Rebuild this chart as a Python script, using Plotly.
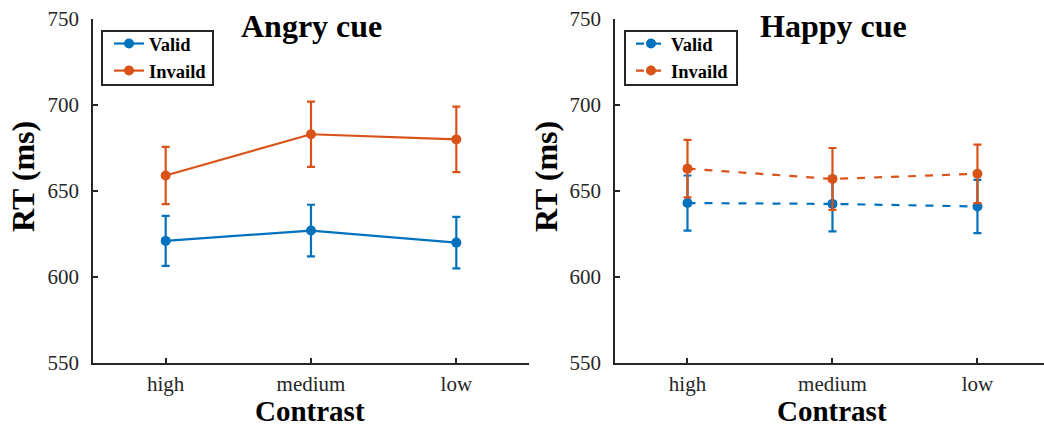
import plotly.graph_objects as go

# ---- data ----
categories = ["high", "medium", "low"]
series_names = ["Valid", "Invaild"]

angry_valid = [621, 627, 620]
angry_valid_err = [14.5, 15, 15]
angry_invalid = [659, 683, 680]
angry_invalid_err = [16.6, 19, 19]

happy_valid = [643, 642.5, 641]
happy_valid_err = [16, 16, 15.5]
happy_invalid = [663, 657, 660]
happy_invalid_err = [16.7, 18, 17]

panel_titles = ["Angry cue", "Happy cue"]
x_title = "Contrast"
y_title = "RT (ms)"
y_ticks = [550, 600, 650, 700, 750]

# ---- style ----
BLUE = "#0072BD"
ORANGE = "#D95319"
AX = "#262626"
FONT = "Liberation Serif"
W, H = 1044, 428
T_MARGIN, B_MARGIN = 19, 65

fig = go.Figure()

def add_series(y, err, name, color, dash, xa, ya, legend):
    fig.add_trace(go.Scatter(
        x=categories, y=y, name=name, mode="lines+markers",
        line=dict(color=color, width=2.2, dash=dash),
        marker=dict(color=color, size=10, symbol="circle"),
        error_y=dict(type="data", array=err, visible=True, color=color,
                     thickness=2.2, width=4),
        xaxis=xa, yaxis=ya, legend=legend,
    ))

add_series(angry_valid, angry_valid_err, series_names[0], BLUE, "solid", "x", "y", "legend")
add_series(angry_invalid, angry_invalid_err, series_names[1], ORANGE, "solid", "x", "y", "legend")
add_series(happy_valid, happy_valid_err, series_names[0], BLUE, "8px,9px", "x2", "y2", "legend2")
add_series(happy_invalid, happy_invalid_err, series_names[1], ORANGE, "8px,9px", "x2", "y2", "legend2")

left_dom = [93 / W, 529 / W]
right_dom = [615 / W, 1.0]

common_x = dict(
    type="category", showline=True, linecolor=AX, linewidth=1.5,
    ticks="inside", ticklen=5, tickwidth=1.5, tickcolor=AX,
    showgrid=False, zeroline=False,
    tickfont=dict(family=FONT, size=21, color=AX),
    ticklabelstandoff=1,
)
common_y = dict(
    range=[550, 750], tickvals=y_ticks, showline=True, linecolor=AX, linewidth=1.5,
    ticks="inside", ticklen=5, tickwidth=1.5, tickcolor=AX,
    showgrid=False, zeroline=False,
    tickfont=dict(family=FONT, size=21, color=AX),
    ticklabelstandoff=8,
)

plot_h = H - T_MARGIN - B_MARGIN
def py(pix):
    return (H - B_MARGIN - pix) / plot_h

legend_style = dict(xanchor="left", yanchor="top", borderwidth=0,
                    bgcolor="rgba(0,0,0,0)",
                    font=dict(family=FONT, size=18.5, color="black", weight="bold"),
                    tracegroupgap=0, itemwidth=30)

fig.update_layout(
    width=W, height=H,
    margin=dict(l=0, r=0, t=T_MARGIN, b=B_MARGIN),
    paper_bgcolor="white", plot_bgcolor="white",
    xaxis=dict(domain=left_dom, range=[-0.5, 2.5], anchor="y", **common_x),
    yaxis=dict(domain=[0, 1], anchor="x", **common_y),
    xaxis2=dict(domain=right_dom, range=[-0.5, 2.459], anchor="y2", **common_x),
    yaxis2=dict(domain=[0, 1], anchor="x2", **common_y),
    legend=dict(x=109 / W, y=py(25), **legend_style),
    legend2=dict(x=631 / W, y=py(25), **legend_style),
    showlegend=True,
)

# legend frames
shapes = []
for x0, x1 in [(102, 213), (625, 737)]:
    shapes.append(dict(type="rect", xref="paper", yref="paper",
                       x0=x0 / W, x1=x1 / W, y0=py(85), y1=py(31),
                       line=dict(color=AX, width=2), fillcolor="rgba(0,0,0,0)"))
fig.update_layout(shapes=shapes)

annots = []
for title, cx in zip(panel_titles, [311, 833]):
    annots.append(dict(text=title, x=cx / W, y=py(26), xref="paper", yref="paper",
                       xanchor="center", yanchor="middle", showarrow=False,
                       font=dict(family=FONT, size=32, color="black", weight="bold")))
for cx in [310, 832]:
    annots.append(dict(text=x_title, x=cx / W, y=py(428), xref="paper", yref="paper",
                       xanchor="center", yanchor="bottom", showarrow=False,
                       borderpad=0,
                       font=dict(family=FONT, size=29, color="black", weight="bold")))
for cx in [23, 546]:
    annots.append(dict(text=y_title, x=cx / W, y=py(177), xref="paper", yref="paper",
                       xanchor="center", yanchor="middle", showarrow=False, textangle=-90,
                       font=dict(family=FONT, size=32, color="black", weight="bold")))
fig.update_layout(annotations=annots)

fig.write_html("out.html")
